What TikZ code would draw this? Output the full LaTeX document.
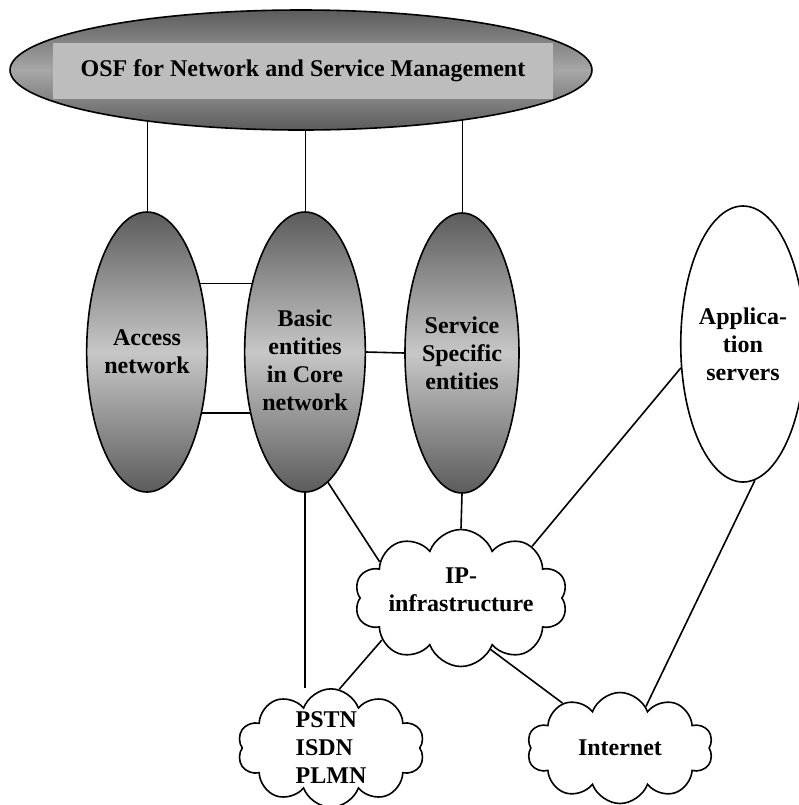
\documentclass[tikz,border=0pt]{standalone}
\usepackage{fontspec}
\setmainfont{Liberation Serif}
\usetikzlibrary{shapes.geometric,shapes.symbols,backgrounds}

\definecolor{shadedark}{gray}{0.36}
\definecolor{shadelight}{gray}{0.78}
\definecolor{bandgray}{gray}{0.74}

\begin{document}
\begin{tikzpicture}[x=0.5pt, y=-0.5pt, line width=0.8pt,
    lbl/.style={font=\fontsize{12}{14}\selectfont\bfseries, align=center},
    entity/.style={ellipse, draw, lbl, inner sep=0pt,
        top color=shadedark, bottom color=shadedark, middle color=shadelight,
        minimum width=58pt, minimum height=140pt},
    server/.style={ellipse, draw, lbl, inner sep=0pt, fill=white,
        minimum width=54pt, minimum height=138pt},
    net/.style={cloud, cloud puffs=10, cloud puff arc=140, shape border rotate=90,
        cloud ignores aspect, draw, fill=white, lbl, inner sep=0pt}]

    \useasboundingbox (0,0) rectangle (799,805);

    % --- 1. Management layer on top ---
    \node[ellipse, draw, inner sep=0pt, top color=shadedark, bottom color=shadedark,
          middle color=shadelight!70!shadedark, minimum width=291pt, minimum height=60pt]
          (osf) at (301,70) {};
    \node[lbl, fill=bandgray, inner sep=0pt, minimum width=250pt, minimum height=28pt]
          (osflabel) at (303,71) {OSF for Network and Service Management};

    % --- 2. Network entities (shaded ellipses) ---
    \node[entity] (access)  at (147,352) {Access\\network};
    \node[entity] (basic)   at (305,352) {\rule{0pt}{17pt}Basic\\entities\\in Core\\network};
    \node[entity, minimum width=57pt] (service) at (462,353) {Service\\Specific\\entities};

    % Application servers (plain ellipse on the right)
    \node[server] (appsrv) at (743,344) {Applica-\\tion\\servers};

    % --- 3. Clouds ---
    \node[net, minimum width=93.5pt, minimum height=68.5pt] (ip) at (461,598)
          {IP-\\infrastructure\rule[-8pt]{0pt}{8pt}};
    \node[net, align=left, minimum width=93.5pt, minimum height=57.5pt] (pstn) at (331,748) {PSTN\\ISDN\\PLMN};
    \node[net, minimum width=93pt, minimum height=55.5pt] (internet) at (620,748) {Internet};

    % --- 4. Connectors ---
    % vertical drops from the management ellipse (hidden behind its fill)
    \begin{scope}[on background layer]
        \draw (access.north)  -- (access.north |- osf.center);
        \draw (basic.north)   -- (basic.north |- osf.center);
        \draw (service.north) -- (service.north |- osf.center);
    \end{scope}

    % links between the entities
    \draw (access.52)  -- (basic.128);
    \draw (access.-48) -- (basic.-132);
    \draw (basic.east) -- (service.west);

    % links to the clouds
    \draw (basic.-80)    -- (ip.156);
    \draw (service.south) -- (ip.north);
    \draw (appsrv.201)   -- (ip.36);
    \draw (appsrv.-85)   -- (internet.58);
    \draw (basic.south)  -- (basic.south |- pstn.north);
    \draw (ip.208)       -- (pstn.82);
    \draw (ip.-60)       -- (internet.142);

\end{tikzpicture}
\end{document}
